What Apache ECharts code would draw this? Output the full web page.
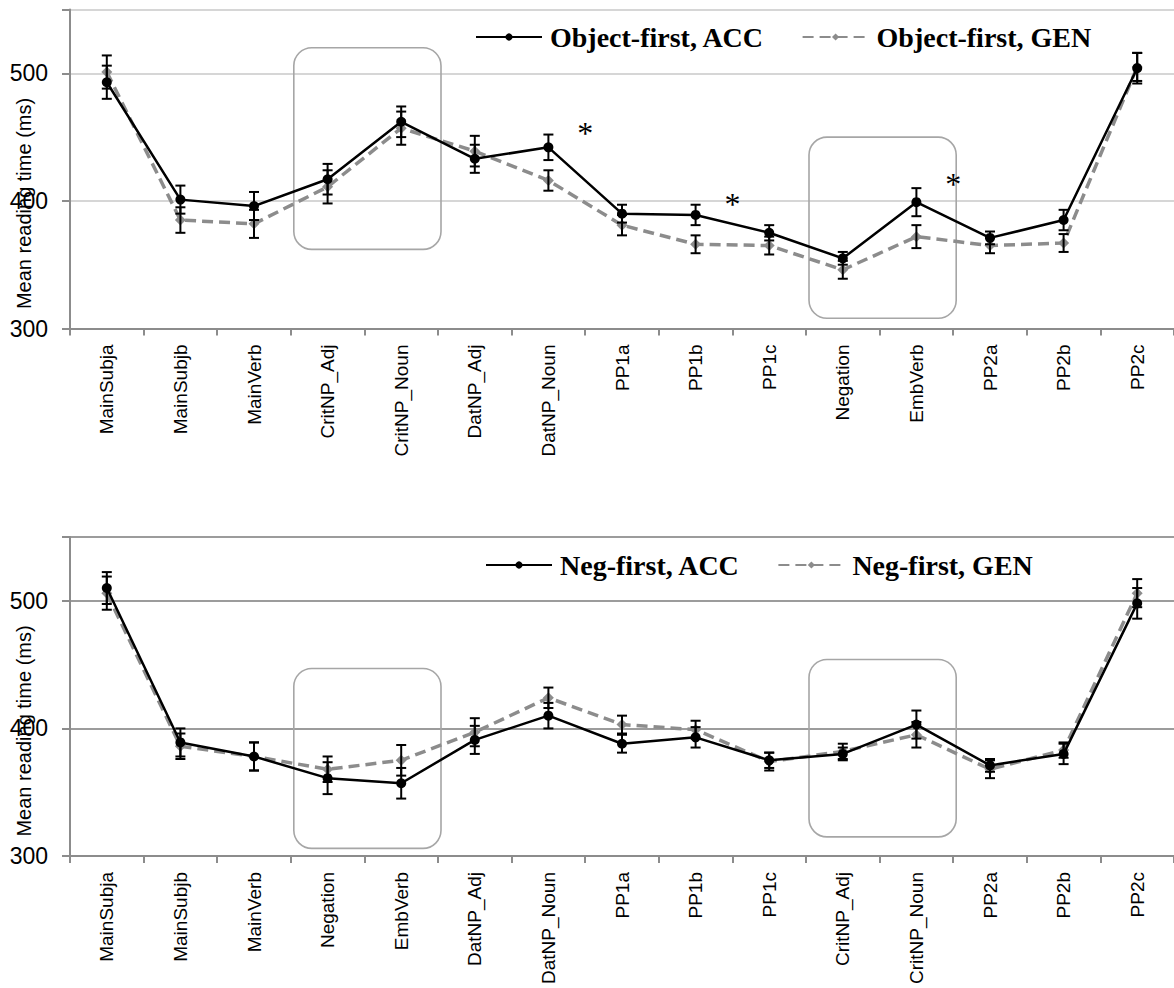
<!DOCTYPE html>
<html><head><meta charset="utf-8">
<script src="https://cdn.jsdelivr.net/npm/echarts@6/dist/echarts.min.js"></script>
<style>html,body{margin:0;padding:0;background:#fff}#c{width:1174px;height:988px}</style>
</head><body><div id="c"></div>
<script>
// ---------- data ----------
const catsTop = ['MainSubja','MainSubjb','MainVerb','CritNP_Adj','CritNP_Noun','DatNP_Adj','DatNP_Noun','PP1a','PP1b','PP1c','Negation','EmbVerb','PP2a','PP2b','PP2c'];
const catsBottom = ['MainSubja','MainSubjb','MainVerb','Negation','EmbVerb','DatNP_Adj','DatNP_Noun','PP1a','PP1b','PP1c','CritNP_Adj','CritNP_Noun','PP2a','PP2b','PP2c'];

const topAcc    = [493, 401, 396, 417, 462, 433, 442, 390, 389, 375, 355, 399, 371, 385, 504];
const topAccErr = [13, 11, 11, 12, 12, 11, 10, 7, 8, 6, 5, 11, 5, 8, 12];
const topGen    = [501, 385, 382, 411, 457, 439, 416, 381, 366, 365, 346, 372, 365, 367, 505];
const topGenErr = [13, 10, 11, 13, 13, 12, 8, 8, 7, 7, 7, 9, 6, 7, 11];

const botAcc    = [510, 389, 378, 361, 357, 391, 410, 388, 393, 375, 380, 403, 371, 380, 498];
const botAccErr = [12.5, 11, 11, 12.5, 12, 11, 10, 7, 8, 6, 5, 11, 5, 8, 12];
const botGen    = [506, 386, 378, 368, 375, 397, 424, 403, 399, 374, 382, 395, 368, 383, 506];
const botGenErr = [13, 10, 11, 10, 12, 11, 8, 7, 7, 7, 6, 10, 7, 6, 11];

const yTickValues = [300, 400, 500];
const yMin = 300, yMax = 550;
const namesTop = ['Object-first, ACC', 'Object-first, GEN'];
const namesBottom = ['Neg-first, ACC', 'Neg-first, GEN'];
const yTitle = 'Mean reading time (ms)';

// highlighted regions (category span, value span)
const boxesTop = [
  {from: 'CritNP_Adj', to: 'CritNP_Noun', lo: 362, hi: 520},
  {from: 'Negation', to: 'EmbVerb', lo: 308, hi: 450}
];
const boxesBottom = [
  {from: 'Negation', to: 'EmbVerb', lo: 306, hi: 447},
  {from: 'CritNP_Adj', to: 'CritNP_Noun', lo: 315, hi: 454}
];
// significance markers, placed after a category at a value
const starsTop = [
  {after: 'DatNP_Noun', value: 459},
  {after: 'PP1b', value: 403},
  {after: 'EmbVerb', value: 419}
];

// ---------- chart ----------
const chart = echarts.init(document.getElementById('c'), null, {renderer: 'svg'});
const SANS = 'Liberation Sans, Arial, sans-serif';
const SERIF = 'Liberation Serif, Times New Roman, serif';

function xAxis(idx, cats) {
  return {
    type: 'category', gridIndex: idx, data: cats, boundaryGap: true,
    axisLine: {lineStyle: {color: '#8c8c8c', width: 2}},
    axisTick: {show: true, alignWithLabel: false, length: 7, lineStyle: {color: '#8c8c8c', width: 2}},
    axisLabel: {rotate: 90, fontFamily: SANS, fontSize: 19, color: '#000', margin: 16, interval: 0},
    splitLine: {show: false}
  };
}
function yAxis(idx, gridColor, gridWidth) {
  return {
    type: 'value', gridIndex: idx, min: yMin, max: yMax, interval: 100,
    axisLine: {show: true, lineStyle: {color: '#8c8c8c', width: 2}},
    axisTick: {show: true, length: 8, lineStyle: {color: '#8c8c8c', width: 2}},
    axisLabel: {fontFamily: SANS, fontSize: 23, color: '#000', margin: 22,
      formatter: v => (yTickValues.indexOf(v) >= 0 ? String(v) : '')},
    splitLine: {show: true, showMinLine: false, lineStyle: {color: gridColor, width: gridWidth}}
  };
}
function lineSeries(name, idx, data, isAcc) {
  return isAcc ? {
    name, type: 'line', xAxisIndex: idx, yAxisIndex: idx, data,
    symbol: 'circle', symbolSize: 10, color: '#000',
    lineStyle: {color: '#000', width: 2.5}, itemStyle: {color: '#000'}, z: 3
  } : {
    name, type: 'line', xAxisIndex: idx, yAxisIndex: idx, data,
    symbol: 'diamond', symbolSize: 11, color: '#8c8c8c',
    lineStyle: {color: '#8c8c8c', width: 3.5, type: [11, 6]}, itemStyle: {color: '#8c8c8c'}, z: 2
  };
}
function errSeries(idx, vals, errs) {
  return {
    type: 'custom', xAxisIndex: idx, yAxisIndex: idx, z: 4, silent: true,
    data: vals.map((v, i) => [i, v - errs[i], v + errs[i]]),
    encode: {x: 0, y: [1, 2]},
    renderItem: (params, api) => {
      const lo = api.coord([api.value(0), api.value(1)]);
      const hi = api.coord([api.value(0), api.value(2)]);
      const w = 5, st = {stroke: '#000', lineWidth: 2};
      return {type: 'group', children: [
        {type: 'line', shape: {x1: lo[0], y1: lo[1], x2: hi[0], y2: hi[1]}, style: st},
        {type: 'line', shape: {x1: lo[0] - w, y1: lo[1], x2: lo[0] + w, y2: lo[1]}, style: st},
        {type: 'line', shape: {x1: hi[0] - w, y1: hi[1], x2: hi[0] + w, y2: hi[1]}, style: st}
      ]};
    }
  };
}
function legend(names, left, top) {
  return {
    data: names, left, top, orient: 'horizontal', itemWidth: 66, itemHeight: 9, itemGap: 37,
    textStyle: {fontFamily: SERIF, fontWeight: 'bold', fontSize: 28, color: '#000', padding: [0, 0, 0, 3]},
    selectedMode: false
  };
}

chart.setOption({
  animation: false,
  backgroundColor: '#fff',
  grid: [
    {left: 70, right: -3, top: 9.5, height: 319, containLabel: false},
    {left: 70, right: -3, top: 537, height: 319, containLabel: false}
  ],
  xAxis: [xAxis(0, catsTop), xAxis(1, catsBottom)],
  yAxis: [yAxis(0, '#c8c8c8', 1.5), yAxis(1, '#9c9c9c', 2)],
  legend: [legend(namesTop, 470, 18), legend(namesBottom, 480, 546)],
  series: [
    lineSeries(namesTop[0], 0, topAcc, true),
    lineSeries(namesTop[1], 0, topGen, false),
    errSeries(0, topAcc, topAccErr),
    errSeries(0, topGen, topGenErr),
    lineSeries(namesBottom[0], 1, botAcc, true),
    lineSeries(namesBottom[1], 1, botGen, false),
    errSeries(1, botAcc, botAccErr),
    errSeries(1, botGen, botGenErr)
  ]
});

// ---------- annotations computed from the axes ----------
function px(g, cat, v) { return chart.convertToPixel({gridIndex: g}, [cat, v]); }
const graphics = [];
function addBoxes(g, cats, boxes) {
  const bw = px(g, 1, yMin)[0] - px(g, 0, yMin)[0];
  boxes.forEach(b => {
    const a = px(g, cats.indexOf(b.from), b.hi);
    const c = px(g, cats.indexOf(b.to), b.lo);
    const x1 = a[0] - bw / 2 + 3, x2 = c[0] + bw / 2 + 3;
    graphics.push({type: 'rect', z: 1, silent: true,
      shape: {x: x1, y: a[1], width: x2 - x1, height: c[1] - a[1], r: 18},
      style: {fill: 'none', stroke: '#a6a6a6', lineWidth: 1.6}});
  });
}
addBoxes(0, catsTop, boxesTop);
addBoxes(1, catsBottom, boxesBottom);

const bwTop = px(0, 1, yMin)[0] - px(0, 0, yMin)[0];
starsTop.forEach(s => {
  const p = px(0, catsTop.indexOf(s.after), s.value);
  graphics.push({type: 'text', z: 5, silent: true, x: p[0] + bwTop / 2, y: p[1] + 7,
    style: {text: '*', font: '32px ' + SERIF, fill: '#000', textAlign: 'center', textVerticalAlign: 'middle'}});
});

[0, 1].forEach(g => {
  const p = px(g, 0, 398);
  graphics.push({type: 'text', z: 5, silent: true, x: 24, y: p[1], rotation: Math.PI / 2,
    style: {text: yTitle, font: '20px ' + SANS, fill: '#000', textAlign: 'center', textVerticalAlign: 'middle'}});
});

chart.setOption({graphic: graphics});
</script>
</body></html>
